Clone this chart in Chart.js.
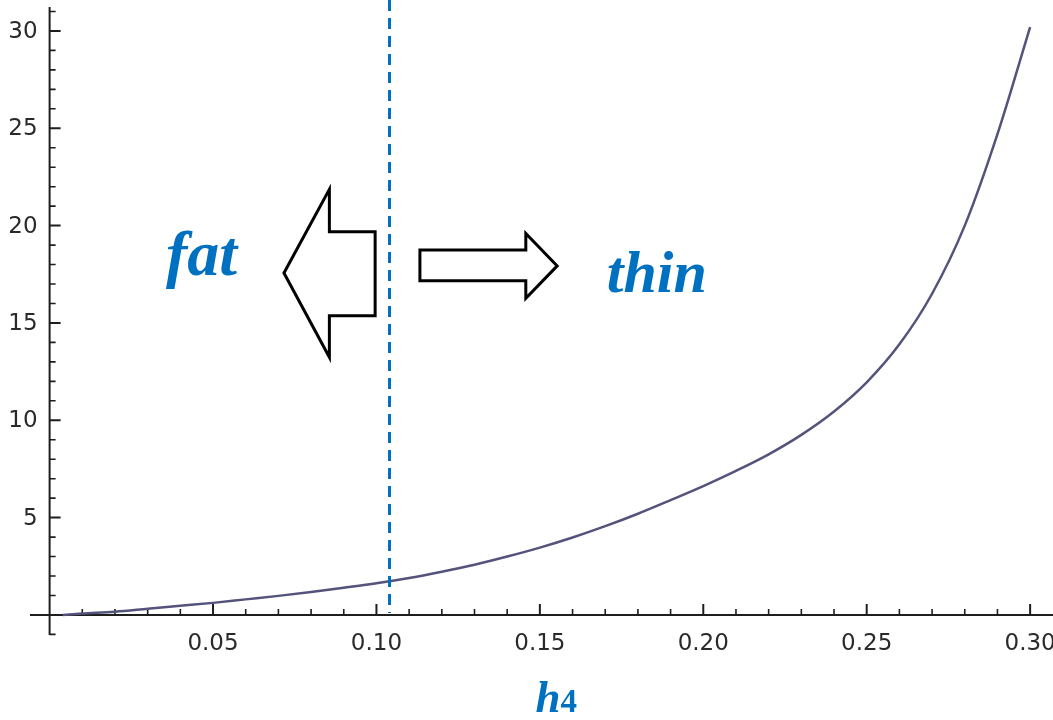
<!DOCTYPE html>
<html>
<head>
<meta charset="utf-8">
<title>h4 curve</title>
<script src="https://cdn.jsdelivr.net/npm/chart.js@4.4.1/dist/chart.umd.min.js"></script>
<style>
  html, body { margin: 0; padding: 0; background: #ffffff; }
  #wrap { width: 1053px; height: 720px; }
</style>
</head>
<body>
<div id="wrap"><canvas id="h4-curve" width="1053" height="720"></canvas></div>
<script>
// ---- data ----
const H_VALUES = [0.004, 0.01, 0.02, 0.03, 0.04, 0.05, 0.06, 0.07, 0.08, 0.09, 0.10,
  0.11, 0.12, 0.13, 0.14, 0.15, 0.16, 0.17, 0.18, 0.19, 0.20,
  0.21, 0.22, 0.23, 0.24, 0.25, 0.26, 0.27, 0.28, 0.29, 0.30];
const F_VALUES = [0.0, 0.07, 0.17, 0.32, 0.47, 0.62, 0.80, 0.98, 1.18, 1.40, 1.63,
  1.90, 2.22, 2.58, 3.00, 3.46, 3.98, 4.56, 5.20, 5.90, 6.62,
  7.40, 8.25, 9.25, 10.45, 11.95, 13.90, 16.50, 20.00, 24.70, 30.20];

const X_MAJOR_TICKS = [0.05, 0.10, 0.15, 0.20, 0.25, 0.30];
const X_TICK_LABELS = ['0.05', '0.10', '0.15', '0.20', '0.25', '0.30'];
const Y_MAJOR_TICKS = [5, 10, 15, 20, 25, 30];
const Y_TICK_LABELS = ['5', '10', '15', '20', '25', '30'];
const X_MINOR_STEP = 0.01;
const Y_MINOR_STEP = 1;

// divider between the two regions
const DIVIDER_H = 0.104;

// annotation arrows, in data units (h, value)
const FAT_ARROW = [[0.0717, 17.57], [0.0856, 21.86], [0.0856, 19.69], [0.0996, 19.69],
  [0.0996, 15.37], [0.0856, 15.37], [0.0856, 13.24]];
const THIN_ARROW = [[0.1133, 18.75], [0.1457, 18.75], [0.1457, 19.60], [0.1553, 17.93],
  [0.1457, 16.27], [0.1457, 17.17], [0.1133, 17.17]];
const REGION_LABELS = [
  { text: 'fat', h: 0.0465, v: 17.45, size: 64 },
  { text: 'thin', h: 0.1858, v: 16.6, size: 60 }
];

const BLUE = '#0070C0';
const AXIS_COLOR = '#1e1e1e';
const CURVE_COLOR = '#53537c';

// Mathematica-style axes crossing at the origin, ticks pointing inward
const mathAxes = {
  id: 'mathAxes',
  beforeDatasetsDraw(chart) {
    const { ctx, scales: { x, y } } = chart;
    const x0 = x.getPixelForValue(0);
    const y0 = y.getPixelForValue(0);
    ctx.save();
    ctx.strokeStyle = AXIS_COLOR;
    ctx.lineWidth = 2;
    ctx.beginPath();
    ctx.moveTo(x.left, y0); ctx.lineTo(x.right, y0);
    ctx.moveTo(x0, y.top); ctx.lineTo(x0, y.bottom);
    ctx.stroke();

    // minor ticks
    ctx.lineWidth = 1.6;
    ctx.beginPath();
    for (let k = Math.ceil(x.min / X_MINOR_STEP); k * X_MINOR_STEP <= x.max + 1e-9; k++) {
      if (k === 0 || k % 5 === 0) continue;
      const px = x.getPixelForValue(k * X_MINOR_STEP);
      ctx.moveTo(px, y0); ctx.lineTo(px, y0 - 6);
    }
    for (let k = Math.ceil(y.min / Y_MINOR_STEP); k * Y_MINOR_STEP <= y.max + 1e-9; k++) {
      if (k === 0 || k % 5 === 0) continue;
      const py = y.getPixelForValue(k * Y_MINOR_STEP);
      ctx.moveTo(x0, py); ctx.lineTo(x0 + 6, py);
    }
    ctx.stroke();

    // major ticks
    ctx.lineWidth = 2;
    ctx.beginPath();
    X_MAJOR_TICKS.forEach(v => {
      const px = x.getPixelForValue(v);
      ctx.moveTo(px, y0); ctx.lineTo(px, y0 - 11);
    });
    Y_MAJOR_TICKS.forEach(v => {
      const py = y.getPixelForValue(v);
      ctx.moveTo(x0, py); ctx.lineTo(x0 + 11, py);
    });
    ctx.stroke();

    // tick labels
    ctx.fillStyle = '#2a2a2a';
    ctx.font = '23px "DejaVu Sans"';
    ctx.textAlign = 'center';
    ctx.textBaseline = 'middle';
    X_MAJOR_TICKS.forEach((v, i) => {
      ctx.fillText(X_TICK_LABELS[i], x.getPixelForValue(v), y0 + 29);
    });
    ctx.textAlign = 'right';
    Y_MAJOR_TICKS.forEach((v, i) => {
      ctx.fillText(Y_TICK_LABELS[i], x0 - 12, y.getPixelForValue(v) + 1);
    });
    ctx.restore();
  },
  afterDatasetsDraw(chart) {
    const { ctx, scales: { x, y } } = chart;
    ctx.save();

    // dashed divider
    ctx.strokeStyle = BLUE;
    ctx.lineWidth = 3;
    ctx.setLineDash([11, 7]);
    ctx.beginPath();
    const dx = x.getPixelForValue(DIVIDER_H);
    ctx.moveTo(dx, 0);
    ctx.lineTo(dx, y.getPixelForValue(0) - 2);
    ctx.stroke();
    ctx.setLineDash([]);

    // block arrows
    ctx.strokeStyle = '#000000';
    ctx.fillStyle = '#ffffff';
    ctx.lineWidth = 3;
    ctx.lineJoin = 'miter';
    [FAT_ARROW, THIN_ARROW].forEach(shape => {
      ctx.beginPath();
      shape.forEach(([h, v], i) => {
        const px = x.getPixelForValue(h), py = y.getPixelForValue(v);
        if (i === 0) ctx.moveTo(px, py); else ctx.lineTo(px, py);
      });
      ctx.closePath();
      ctx.fill();
      ctx.stroke();
    });

    // region words
    ctx.fillStyle = BLUE;
    ctx.textAlign = 'center';
    ctx.textBaseline = 'alphabetic';
    REGION_LABELS.forEach(l => {
      ctx.font = `italic bold ${l.size}px "Liberation Serif"`;
      ctx.fillText(l.text, x.getPixelForValue(l.h), y.getPixelForValue(l.v));
    });

    // axis title: italic h with upright 4
    const hFont = 'italic bold 45px "Liberation Serif"';
    const dFont = 'bold 33px "Liberation Serif"';
    ctx.font = hFont;
    const hw = ctx.measureText('h').width;
    ctx.font = dFont;
    const dw = ctx.measureText('4').width;
    const cx = x.getPixelForValue(0.155);
    const base = 712;
    ctx.textAlign = 'left';
    ctx.font = hFont;
    ctx.fillText('h', cx - (hw + dw) / 2, base);
    ctx.font = dFont;
    ctx.fillText('4', cx - (hw + dw) / 2 + hw, base);
    ctx.restore();
  }
};

new Chart(document.getElementById('h4-curve'), {
  type: 'scatter',
  data: {
    datasets: [{
      data: H_VALUES.map((h, i) => ({ x: h, y: F_VALUES[i] })),
      showLine: true,
      borderColor: CURVE_COLOR,
      borderWidth: 2.5,
      pointRadius: 0,
      cubicInterpolationMode: 'monotone',
      fill: false
    }]
  },
  options: {
    responsive: false,
    animation: false,
    devicePixelRatio: 1,
    layout: { padding: { left: 30, right: 0, top: 7, bottom: 85 } },
    plugins: { legend: { display: false }, tooltip: { enabled: false } },
    scales: {
      x: { type: 'linear', min: -0.006, max: 0.307, display: false },
      y: { type: 'linear', min: -1.03, max: 31.23, display: false }
    }
  },
  plugins: [mathAxes]
});
</script>
</body>
</html>
